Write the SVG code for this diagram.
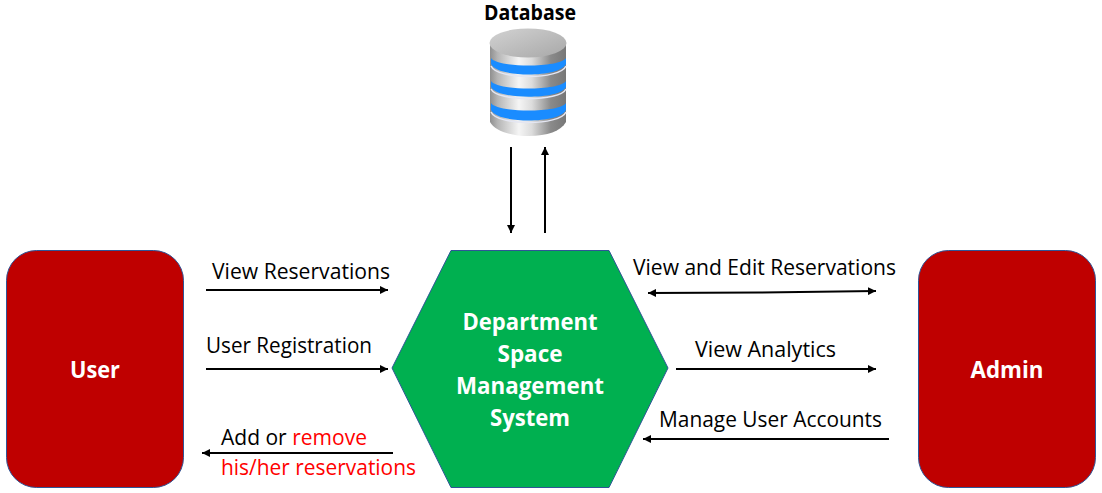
<svg xmlns="http://www.w3.org/2000/svg" width="1102" height="493" viewBox="0 0 1102 493">
<style>
text{font-family:"Open Sans","Noto Sans","Liberation Sans",sans-serif}
.l{font-size:22px;fill:#000}
.r{fill:#f00}
.w{font-size:24px;font-weight:700;fill:#fff;text-anchor:middle}
.b{fill:#bf0000;stroke:#2f5597;stroke-width:1}
.c{stroke:#000;stroke-width:2;fill:none}
.band{fill:#1a8cff}
.rim{fill:none;stroke:#e4e6f2;stroke-width:1.500}
</style>
<defs>
<marker id="a" markerUnits="userSpaceOnUse" markerWidth="9" markerHeight="8" refX="8" refY="4" orient="auto-start-reverse"><path d="M0 0L8 4L0 8z" fill="#000"/></marker>
<linearGradient id="m" x1="0" x2="1" y1="0" y2="0">
<stop offset="0" stop-color="#8f8f8f"/><stop offset=".1" stop-color="#b5b5b5"/><stop offset=".38" stop-color="#f5f5f5"/><stop offset=".55" stop-color="#dcdcdc"/><stop offset=".8" stop-color="#8a8a8a"/><stop offset="1" stop-color="#777"/>
</linearGradient>
<linearGradient id="t" x1="0" x2="1" y1="0" y2="1"><stop offset="0" stop-color="#d2d2d2"/><stop offset="1" stop-color="#a8a8a8"/></linearGradient>
</defs>
<rect width="1102" height="493" fill="#fff"/>
<g id="database">
<path d="M490 43V122C495 131 511 136 529 136C547 136 561 131 566 122V43z" fill="url(#m)"/>
<ellipse cx="528" cy="43" rx="38.500" ry="14.500" fill="url(#t)"/>
<path class="band" d="M491 58C497 68 560 68 566 58V64C560 78 497 78 491 64z"/>
<path class="rim" d="M491 66C497 80 560 80 566 66"/>
<path class="band" d="M491 81C497 91 560 91 566 81V87C560 100 497 100 491 87z"/>
<path class="rim" d="M491 89C497 102 560 102 566 89"/>
<path class="band" d="M491 103C497 113 560 113 566 103V110C560 124 497 124 491 110z"/>
<path class="rim" d="M491 112C497 126 560 126 566 112"/>
<text x="530" y="20" text-anchor="middle" font-size="21" font-weight="700" textLength="92" lengthAdjust="spacingAndGlyphs">Database</text>
</g>
<g id="user"><rect class="b" x="6.500" y="250.500" width="177" height="237" rx="30"/><text class="w" x="95" y="378" textLength="50" lengthAdjust="spacingAndGlyphs">User</text></g>
<g id="admin"><rect class="b" x="918.500" y="250.500" width="177" height="237" rx="30"/><text class="w" x="1007" y="378" textLength="73" lengthAdjust="spacingAndGlyphs">Admin</text></g>
<g id="system">
<polygon points="392,368 451,250.500 609,250.500 668,368 609,487.500 451,487.500" fill="#00b050" stroke="#2f5597"/>
<text class="w" x="530" y="330" textLength="135" lengthAdjust="spacingAndGlyphs">Department</text>
<text class="w" x="530" y="362" textLength="65" lengthAdjust="spacingAndGlyphs">Space</text>
<text class="w" x="530" y="394" textLength="148" lengthAdjust="spacingAndGlyphs">Management</text>
<text class="w" x="530" y="426" textLength="80" lengthAdjust="spacingAndGlyphs">System</text>
</g>
<g id="connectors">
<line class="c" x1="511" y1="147" x2="511" y2="233" marker-end="url(#a)"/>
<line class="c" x1="545" y1="233" x2="545" y2="147" marker-end="url(#a)"/>
<line class="c" x1="206" y1="290" x2="388" y2="290" marker-end="url(#a)"/>
<line class="c" x1="206" y1="369" x2="388" y2="369" marker-end="url(#a)"/>
<line class="c" x1="393" y1="453" x2="202" y2="453" marker-end="url(#a)"/>
<path class="c" d="M648 293L760 292.500L876 291" marker-start="url(#a)" marker-end="url(#a)"/>
<line class="c" x1="676" y1="369" x2="876" y2="369" marker-end="url(#a)"/>
<line class="c" x1="889" y1="439" x2="643" y2="439" marker-end="url(#a)"/>
</g>
<g id="labels">
<text class="l" x="212" y="279" textLength="178" lengthAdjust="spacingAndGlyphs">View Reservations</text>
<text class="l" x="206" y="353" textLength="166" lengthAdjust="spacingAndGlyphs">User Registration</text>
<text class="l" x="221" y="445" textLength="146" lengthAdjust="spacingAndGlyphs">Add or <tspan class="r">remove</tspan></text>
<text class="l r" x="221" y="475" textLength="195" lengthAdjust="spacingAndGlyphs">his/her reservations</text>
<text class="l" x="633" y="275" textLength="263" lengthAdjust="spacingAndGlyphs">View and Edit Reservations</text>
<text class="l" x="695" y="357" textLength="141" lengthAdjust="spacingAndGlyphs">View Analytics</text>
<text class="l" x="659" y="427" textLength="223" lengthAdjust="spacingAndGlyphs">Manage User Accounts</text>
</g>
</svg>
